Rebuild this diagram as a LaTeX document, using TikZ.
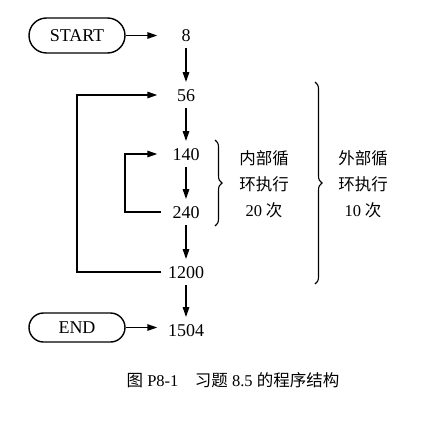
\documentclass[tikz,border=0pt]{standalone}
\usepackage{fontspec}
\setmainfont{Liberation Serif}
\newfontfamily\cjk{Noto Sans CJK SC}
\usetikzlibrary{arrows.meta,shapes.misc,decorations.pathreplacing}
\begin{document}
\begin{tikzpicture}[x=1pt,y=-1pt,
  line width=1.4pt,
  arr/.style={-{Triangle[length=10pt,width=6.5pt]}},
  num/.style={font=\fontsize{18}{20}\selectfont, minimum width=48pt, inner xsep=0pt,
              inner ysep=6pt, text height=12.5pt, text depth=0pt},
  term/.style={draw, rounded rectangle, minimum width=96pt, inner sep=0pt,
              font=\fontsize{18}{20}\selectfont},
  note/.style={font=\cjk\fontsize{16.5}{26}\selectfont, align=center},
  brc/.style={decorate, decoration={brace, amplitude=7pt}, line width=1.1pt}]
\useasboundingbox (0,0) rectangle (438,422);
% terminals
\node[term, minimum height=35pt] (start) at (77,35.5) {START};
\node[term, minimum height=29pt] (end) at (77,327.5) {END};
% numbers
\node[num] (n8) at (186,35) {8};
\node[num] (n56) at (186,95) {56};
\node[num] (n140) at (186,154) {140};
\node[num] (n240) at (186,212) {240};
\node[num] (n1200) at (186,272) {1200};
\node[num] (n1504) at (186,330) {1504};
% horizontal arrows
\draw[arr, shorten >=4pt] (start.east) -- (start.east -| n8.west);
\draw[arr, shorten >=4pt] (end.east) -- (end.east -| n1504.west);
% vertical arrows
\draw[arr] (n8.south) -- (n56.north);
\draw[arr] (n56.south) -- (n140.north);
\draw[arr] (n140.south) -- (n240.north);
\draw[arr] (n240.south) -- (n1200.north);
\draw[arr] (n1200.south) -- (n1504.north);
% loops
\coordinate (il) at (125,0);
\coordinate (ol) at (77,0);
\draw[arr, shorten >=4pt] (n240.west) -- (n240.west -| il) -- (n140.west -| il) -- (n140.west);
\draw[arr, shorten >=4pt] (n1200.west) -- (n1200.west -| ol) -- (n56.west -| ol) -- (n56.west);
% braces
\coordinate (ib1) at (215,140);
\coordinate (ib2) at (215,226);
\coordinate (ob1) at (315,82);
\coordinate (ob2) at (315,284);
\draw[brc] (ib1) -- (ib2);
\draw[brc] (ob1) -- (ob2);
% notes
\node[note] (inner) at (264,184) {内部循\\环执行\\{\fontspec{Liberation Serif}20} 次};
\node[note] (outer) at (363,184) {外部循\\环执行\\{\fontspec{Liberation Serif}10} 次};
% caption
\node[font=\fontsize{16.5}{20}\selectfont] (cap) at (233,380) {{\cjk 图} P8-1\quad{\cjk 习题} 8.5 {\cjk 的程序结构}};
\end{tikzpicture}
\end{document}
